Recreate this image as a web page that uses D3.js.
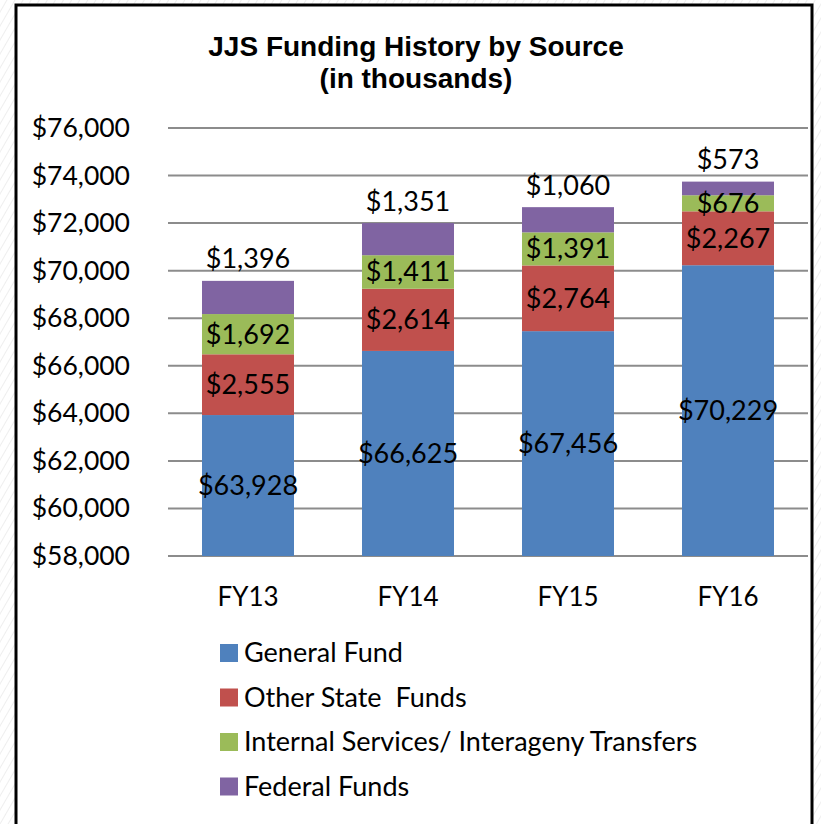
<!DOCTYPE html>
<html>
<head>
<meta charset="utf-8">
<script src="https://cdn.jsdelivr.net/npm/d3@7"></script>
<style>
  body { margin: 0; background: repeating-linear-gradient(120deg, #ffffff 0px, #ffffff 5px, #eeeeee 6px, #ffffff 7px); }
  svg { display: block; }
</style>
</head>
<body>
<div id="chart"></div>
<script>
// data (in thousands)
const years = ["FY13", "FY14", "FY15", "FY16"]
const seriesNames = ["General Fund", "Other State  Funds", "Internal Services/ Interageny Transfers", "Federal Funds"]
const generalFund = [63928, 66625, 67456, 70229]
const otherState = [2555, 2614, 2764, 2267]
const internalSvc = [1692, 1411, 1391, 676]
const federal = [1396, 1351, 1060, 573]
const yTicks = [58000, 60000, 62000, 64000, 66000, 68000, 70000, 72000, 74000, 76000]
const colors = ["#4F81BD", "#C0504D", "#9BBB59", "#8064A2"]

function drawChart(){
    const width = 821, height = 824
    const plot = { left: 168, right: 808, top: 128, bottom: 556 }
    const font = "Lato, 'Open Sans', sans-serif"

    const svg = d3.select("#chart").append("svg")
        .attr("width", width)
        .attr("height", height)

    // chart frame
    svg.append("rect")
        .attr("x", 16).attr("y", 5)
        .attr("width", 796).attr("height", 840)
        .attr("fill", "white")
        .attr("stroke", "black")
        .attr("stroke-width", 3)

    // title
    const titleLines = ["JJS Funding History by Source", "(in thousands)"]
    svg.append("g").selectAll("text")
        .data(titleLines)
        .enter().append("text")
        .attr("x", 416).attr("y", (d, i) => 56 + i * 32)
        .attr("text-anchor", "middle")
        .style("font-family", "Arial, 'Liberation Sans', sans-serif")
        .style("font-weight", "bold")
        .style("font-size", "28px")
        .text(d => d)

    // scales
    const xScale = d3.scaleBand()
        .domain(years)
        .range([plot.left, plot.right])
        .paddingInner(0.425)
        .paddingOuter(0.2125)

    const yScale = d3.scaleLinear()
        .domain([58000, 76000])
        .range([plot.bottom, plot.top])

    // gridlines
    svg.append("g")
        .selectAll("line")
        .data(yTicks)
        .enter().append("line")
        .attr("x1", plot.left).attr("x2", plot.right)
        .attr("y1", d => yScale(d)).attr("y2", d => yScale(d))
        .attr("stroke", "#8c8c8c")
        .attr("stroke-width", 2)

    // y axis labels
    const yAxis = svg.append("g")
        .attr("transform", `translate(${plot.left - 38},0)`)
        .call(d3.axisLeft(yScale).tickValues(yTicks).tickSize(0).tickPadding(0)
            .tickFormat(d => "$" + d3.format(",")(d)))
    yAxis.select(".domain").remove()
    yAxis.selectAll("text")
        .style("font-family", font)
        .style("font-size", "26.5px")
        .attr("fill", "black")

    // x axis labels
    const xAxis = svg.append("g")
        .attr("transform", `translate(0,${plot.bottom + 41})`)
        .call(d3.axisBottom(xScale).tickSize(0).tickPadding(0))
    xAxis.select(".domain").remove()
    xAxis.selectAll("text")
        .style("font-family", font)
        .style("font-size", "26px")
        .attr("fill", "black")
        .attr("dy", "0.35em")

    // stack
    const table = years.map((y, i) => ({
        year: y,
        s0: generalFund[i], s1: otherState[i], s2: internalSvc[i], s3: federal[i]
    }))
    const stack = d3.stack().keys(["s0", "s1", "s2", "s3"])
    const layers = stack(table)

    const layerGroups = svg.append("g")
        .selectAll("g")
        .data(layers)
        .enter().append("g")
        .attr("fill", (d, i) => colors[i])

    layerGroups.selectAll("rect")
        .data(d => d)
        .enter().append("rect")
        .attr("x", d => xScale(d.data.year))
        .attr("width", xScale.bandwidth())
        .attr("y", d => yScale(Math.min(d[1], 76000)))
        .attr("height", d => yScale(Math.max(d[0], 58000)) - yScale(d[1]))

    // labels inside segments (first 3 series)
    layers.slice(0, 3).forEach(layer => {
        svg.append("g").selectAll("text")
            .data(layer)
            .enter().append("text")
            .attr("x", d => xScale(d.data.year) + xScale.bandwidth() / 2)
            .attr("y", d => layer.key === "s0"
                ? yScale((Math.max(d[0], 58000) + d[1]) / 2)
                : yScale((d[0] + d[1]) / 2))
            .attr("dy", "0.35em")
            .attr("text-anchor", "middle")
            .style("font-family", font)
            .style("font-size", "27px")
            .text(d => "$" + d3.format(",")(d[1] - d[0]))
    })

    // federal labels above the bars
    svg.append("g").selectAll("text")
        .data(layers[3])
        .enter().append("text")
        .attr("x", d => xScale(d.data.year) + xScale.bandwidth() / 2)
        .attr("y", d => yScale(d[1]) - 22)
        .attr("dy", "0.35em")
        .attr("text-anchor", "middle")
        .style("font-family", font)
        .style("font-size", "27px")
        .text(d => "$" + d3.format(",")(d[1] - d[0]))

    // legend
    const legend = svg.append("g")
        .selectAll("g")
        .data(seriesNames)
        .enter().append("g")
        .attr("transform", (d, i) => `translate(220, ${653 + i * 44.5})`)

    legend.append("rect")
        .attr("x", 0).attr("y", -9)
        .attr("width", 18).attr("height", 18)
        .attr("fill", (d, i) => colors[i])

    legend.append("text")
        .attr("x", 24)
        .attr("dy", "0.35em")
        .style("font-family", font)
        .style("font-size", "27px")
        .style("white-space", "pre")
        .text(d => d)
}

drawChart()
</script>
</body>
</html>
